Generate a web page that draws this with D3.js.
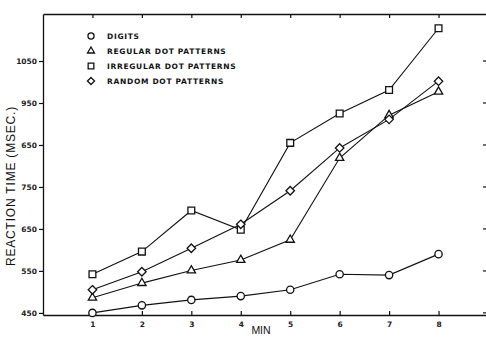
<!DOCTYPE html>
<html>
<head>
<meta charset="utf-8">
<script src="https://cdn.jsdelivr.net/npm/d3@7"></script>
<style>
  body { margin: 0; background: #fff; }
  text { font-family: "DejaVu Sans", sans-serif; fill: #111; }
</style>
</head>
<body>
<div id="chart"></div>
<script>
// ---- data ----
const minutes = [1, 2, 3, 4, 5, 6, 7, 8];
const digits = [450, 468, 481, 490, 505, 542, 540, 590];
const regularDots = [486, 521, 551, 576, 624, 819, 921, 977];
const irregularDots = [542, 596, 694, 648, 855, 925, 981, 1128];
const randomDots = [505, 548, 604, 661, 741, 843, 911, 1002];
const yTicks = [450, 550, 650, 750, 850, 950, 1050];
const yTickLabels = ["450", "550", "650", "750", "650", "950", "1050"]; // as printed
const seriesNames = ["DIGITS", "REGULAR DOT PATTERNS", "IRREGULAR DOT PATTERNS", "RANDOM DOT PATTERNS"];

const series = [
  { name: seriesNames[0], values: digits, symbol: d3.symbolCircle, size: 42 },
  { name: seriesNames[1], values: regularDots, symbol: d3.symbolTriangle, size: 30 },
  { name: seriesNames[2], values: irregularDots, symbol: d3.symbolSquare, size: 46 },
  { name: seriesNames[3], values: randomDots, symbol: d3.symbolDiamond2, size: 46 }
];

const W = 486, H = 338;
const mLeft = 43, mTop = 14, mBottom = 315, mRight = 486;

const svg = d3.select('#chart').append('svg')
  .attr('width', W)
  .attr('height', H);

const x = d3.scaleLinear().domain([0, 8.96]).range([mLeft, mRight]);
const y = d3.scaleLinear().domain([445, 1162]).range([mBottom, mTop]);

// axes
const axisStyle = g => {
  g.select('.domain').attr('stroke', '#111').attr('stroke-width', 1.3);
  g.selectAll('.tick line').attr('stroke', '#111').attr('stroke-width', 1.2);
  g.selectAll('text')
    .style('font-size', '7.5px')
    .style('font-weight', 'bold')
    .style('fill', '#222');
};

svg.append('g')
  .attr('transform', 'translate(0,' + mBottom + ')')
  .call(d3.axisBottom(x).tickValues(minutes).tickSizeInner(-4).tickSizeOuter(0).tickPadding(7))
  .call(axisStyle);

svg.append('g')
  .attr('transform', 'translate(0,' + mTop + ')')
  .call(d3.axisTop(x).tickValues(minutes).tickSizeInner(-4).tickSizeOuter(0).tickFormat(''))
  .call(axisStyle);

svg.append('g')
  .attr('transform', 'translate(' + mLeft + ',0)')
  .call(d3.axisLeft(y).tickValues(yTicks).tickSizeInner(4).tickSizeOuter(0).tickPadding(2)
    .tickFormat((d, i) => yTickLabels[i]))
  .call(axisStyle);

// right side ticks (axis line falls off the page)
svg.append('g').selectAll('line')
  .data(yTicks)
  .enter()
  .append('line')
  .attr('x1', mRight - 3)
  .attr('x2', mRight)
  .attr('y1', d => y(d))
  .attr('y2', d => y(d))
  .attr('stroke', '#111')
  .attr('stroke-width', 1.2);

// axis titles
svg.append('text')
  .attr('transform', 'translate(15,' + 186 + ') rotate(-90)')
  .attr('text-anchor', 'middle')
  .style('font-family', '"Liberation Sans", Arial, sans-serif')
  .style('font-size', '12px')
  .style('letter-spacing', '0.8px')
  .text('REACTION TIME (MSEC.)');

svg.append('text')
  .attr('x', 261)
  .attr('y', 334)
  .attr('text-anchor', 'middle')
  .style('font-family', '"Liberation Sans", Arial, sans-serif')
  .style('font-size', '10.5px')
  .text('MIN');

// lines + markers
const line = d3.line()
  .x((d, i) => x(minutes[i]))
  .y(d => y(d));

series.forEach(s => {
  svg.append('path')
    .datum(s.values)
    .attr('d', line)
    .attr('fill', 'none')
    .attr('stroke', '#111')
    .attr('stroke-width', 1.1);

  svg.append('g')
    .selectAll('path')
    .data(s.values)
    .enter()
    .append('path')
    .attr('transform', (d, i) => 'translate(' + x(minutes[i]) + ',' + y(d) + ')')
    .attr('d', d3.symbol().type(s.symbol).size(s.size))
    .attr('fill', 'white')
    .attr('stroke', '#111')
    .attr('stroke-width', 1.3);
});

// legend
const legend = svg.append('g').attr('transform', 'translate(91,36)');
const legendItems = legend.selectAll('.legend-item')
  .data(series)
  .enter()
  .append('g')
  .attr('class', 'legend-item')
  .attr('transform', (d, i) => 'translate(0,' + (i * 15) + ')');

legendItems.append('path')
  .attr('d', d => d3.symbol().type(d.symbol).size(d.size * 0.7)())
  .attr('fill', 'white')
  .attr('stroke', '#111')
  .attr('stroke-width', 1.3);

legendItems.append('text')
  .attr('x', 16)
  .attr('y', 3)
  .style('font-size', '7.5px')
  .style('font-weight', 'bold')
  .style('letter-spacing', '0.7px')
  .text(d => d.name);
</script>
</body>
</html>
